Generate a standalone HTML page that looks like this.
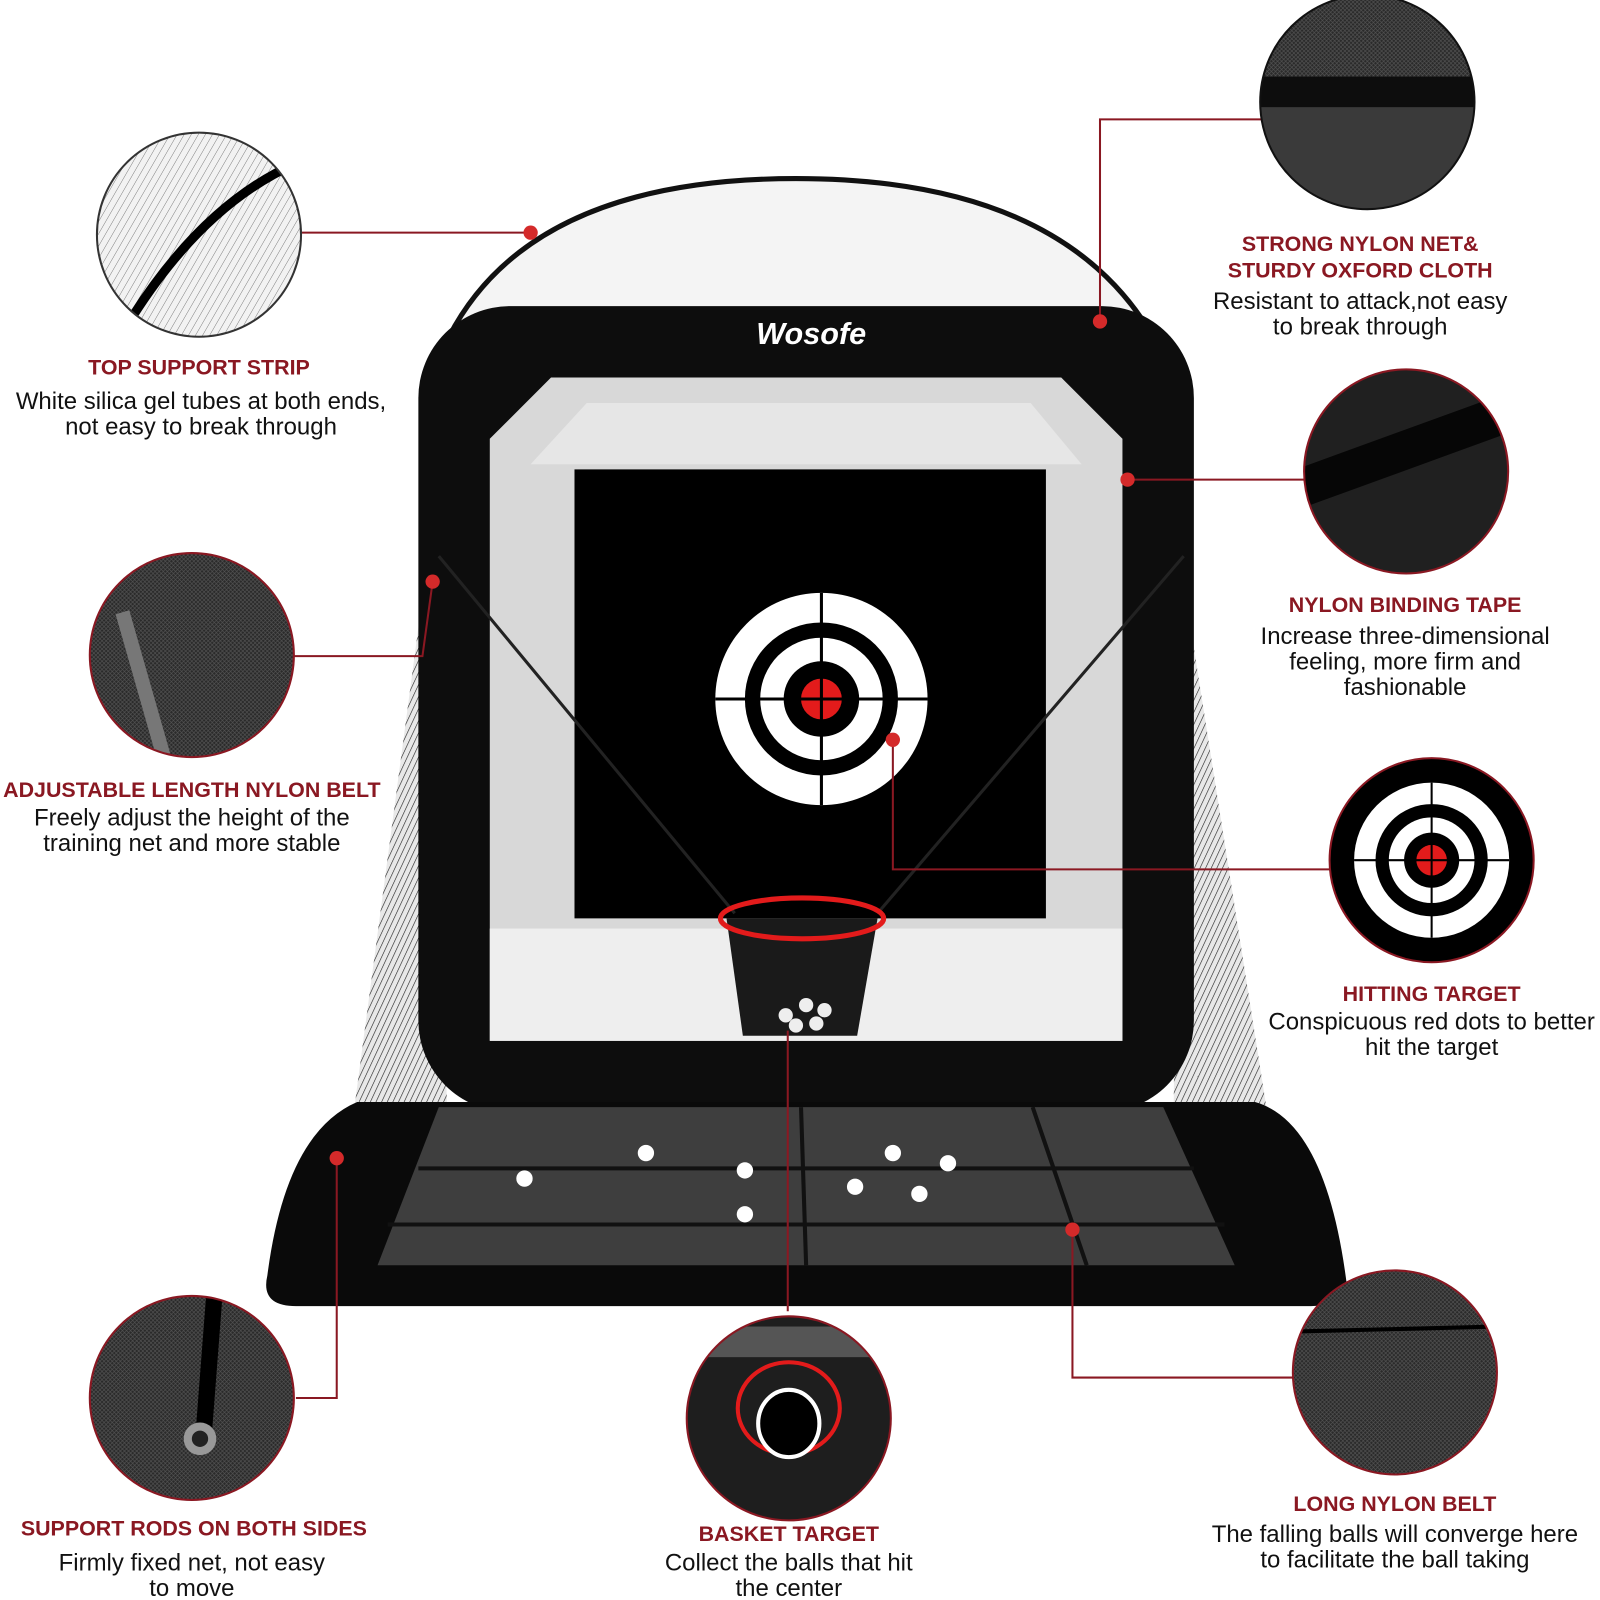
<!DOCTYPE html>
<html><head><meta charset="utf-8"><style>
html,body{margin:0;padding:0;background:#fff;width:1600px;height:1600px;overflow:hidden}
svg{display:block}
.h{font-family:"Liberation Sans",sans-serif;font-weight:bold;fill:#8a1822;font-size:21px}
.b{font-family:"Liberation Sans",sans-serif;fill:#111;font-size:23.5px}
</style></head><body>
<svg width="1600" height="1600" viewBox="0 0 1568 1568" xmlns="http://www.w3.org/2000/svg">
<defs>
<pattern id="mesh" width="5" height="5" patternUnits="userSpaceOnUse" patternTransform="rotate(25)">
<rect width="5" height="5" fill="#e8e8e8"/><line x1="0" y1="0" x2="0" y2="5" stroke="#222" stroke-width="1.2"/>
</pattern>
<pattern id="wmesh" width="6" height="6" patternUnits="userSpaceOnUse" patternTransform="rotate(30)">
<rect width="6" height="6" fill="#f2f2f2"/><line x1="0" y1="0" x2="0" y2="6" stroke="#666" stroke-width="0.8"/>
</pattern>
<pattern id="dmesh" width="4" height="4" patternUnits="userSpaceOnUse">
<rect width="4" height="4" fill="#2a2a2a"/><path d="M0 0L4 4M4 0L0 4" stroke="#555" stroke-width="0.6"/>
</pattern>
<clipPath id="c1"><circle cx="195" cy="230" r="100"/></clipPath>
<clipPath id="c2"><circle cx="1340" cy="100" r="105"/></clipPath>
<clipPath id="c3"><circle cx="1378" cy="462" r="100"/></clipPath>
<clipPath id="c4"><circle cx="188" cy="642" r="100"/></clipPath>
<clipPath id="c5"><circle cx="1403" cy="843" r="100"/></clipPath>
<clipPath id="c6"><circle cx="188" cy="1370" r="100"/></clipPath>
<clipPath id="c7"><circle cx="773" cy="1390" r="100"/></clipPath>
<clipPath id="c8"><circle cx="1367" cy="1345" r="100"/></clipPath>
</defs>

<!-- side nets -->
<path d="M420 540 L340 1140 L440 1140 Z" fill="url(#mesh)"/>
<path d="M1155 540 L1245 1110 L1150 1110 Z" fill="url(#mesh)"/>
<!-- dome -->
<path d="M440 330 Q520 175 780 175 Q1040 175 1130 330 Z" fill="#f4f4f4" stroke="#111" stroke-width="5"/>
<!-- main frame -->
<rect x="410" y="300" width="760" height="790" rx="90" fill="#0d0d0d"/>
<path d="M540 370 L1040 370 L1100 430 L1100 1020 L480 1020 L480 430 Z" fill="#d8d8d8"/>
<rect x="480" y="910" width="620" height="110" fill="#eeeeee"/>
<path d="M575 395 L1010 395 L1060 455 L520 455 Z" fill="#e6e6e6"/>
<rect x="563" y="460" width="462" height="440" fill="#000"/>
<text x="795" y="337" text-anchor="middle" font-family="Liberation Sans,sans-serif" font-weight="bold" font-style="italic" font-size="30" fill="#fff">Wosofe</text>
<circle cx="805" cy="685" r="104" fill="#fff"/>
<circle cx="805" cy="685" r="75" fill="#000"/>
<circle cx="805" cy="685" r="60" fill="#fff"/>
<circle cx="805" cy="685" r="37" fill="#000"/>
<circle cx="805" cy="685" r="20" fill="#e31b1b"/>
<line x1="701" y1="685" x2="909" y2="685" stroke="#000" stroke-width="3"/>
<line x1="805" y1="581" x2="805" y2="789" stroke="#000" stroke-width="3"/>
<path d="M430 545 L720 895 M1160 545 L860 895" stroke="#222" stroke-width="3" fill="none"/>
<path d="M712 900 L860 900 L840 1015 L728 1015 Z" fill="#1a1a1a"/>
<ellipse cx="786" cy="900" rx="80" ry="20" fill="none" stroke="#e31b1b" stroke-width="5"/>
<g fill="#eee"><circle cx="770" cy="995" r="7"/><circle cx="790" cy="985" r="7"/><circle cx="808" cy="990" r="7"/><circle cx="800" cy="1003" r="7"/><circle cx="780" cy="1005" r="7"/></g>
<!-- floor -->
<path d="M350 1080 L1230 1080 Q1300 1100 1320 1260 Q1320 1280 1280 1280 L290 1280 Q255 1280 262 1250 Q280 1110 350 1080 Z" fill="#0a0a0a"/>
<path d="M430 1085 L1140 1085 L1210 1240 L370 1240 Z" fill="#3e3e3e"/>
<path d="M410 1145 L1170 1145 M380 1200 L1200 1200 M785 1085 L790 1240 M1012 1085 L1065 1240" stroke="#111" stroke-width="4"/>
<g fill="#fff"><circle cx="633" cy="1130" r="8"/><circle cx="730" cy="1147" r="8"/><circle cx="514" cy="1155" r="8"/><circle cx="875" cy="1130" r="8"/><circle cx="929" cy="1140" r="8"/><circle cx="838" cy="1163" r="8"/><circle cx="901" cy="1170" r="8"/><circle cx="730" cy="1190" r="8"/></g>

<g stroke="#8a1822" stroke-width="2" fill="none">
<path d="M295 228 L520 228"/>
<path d="M1078 315 L1078 117 L1236 117"/>
<path d="M1105 470 L1280 470"/>
<path d="M288 643 L414 643 L424 570"/>
<path d="M875 725 L875 852 L1305 852"/>
<path d="M290 1370 L330 1370 L330 1135"/>
<path d="M772 1010 L772 1285"/>
<path d="M1051 1205 L1051 1350 L1270 1350"/>
</g>
<g fill="#d42a2a"><circle cx="520" cy="228" r="7"/><circle cx="1078" cy="315" r="7"/><circle cx="1105" cy="470" r="7"/><circle cx="424" cy="570" r="7"/><circle cx="875" cy="725" r="7"/><circle cx="330" cy="1135" r="7"/><circle cx="1051" cy="1205" r="7"/></g>

<g clip-path="url(#c1)"><rect x="90" y="125" width="210" height="210" fill="url(#wmesh)"/><path d="M130 310 Q200 200 290 160" stroke="#000" stroke-width="9" fill="none"/></g>
<circle cx="195" cy="230" r="100" fill="none" stroke="#333" stroke-width="2"/>
<g clip-path="url(#c2)"><rect x="1230" y="0" width="220" height="210" fill="#3a3a3a"/><rect x="1230" y="0" width="220" height="75" fill="url(#dmesh)"/><rect x="1230" y="75" width="220" height="30" fill="#0d0d0d"/></g>
<circle cx="1340" cy="100" r="105" fill="none" stroke="#111" stroke-width="2"/>
<g clip-path="url(#c3)"><rect x="1275" y="360" width="210" height="210" fill="#202020"/><path d="M1270 460 Q1380 420 1490 380 L1490 420 Q1380 460 1270 500 Z" fill="#060606"/></g>
<circle cx="1378" cy="462" r="100" fill="none" stroke="#8a1822" stroke-width="2"/>
<g clip-path="url(#c4)"><rect x="85" y="540" width="210" height="210" fill="url(#dmesh)"/><path d="M120 600 L160 740" stroke="#777" stroke-width="14"/></g>
<circle cx="188" cy="642" r="100" fill="none" stroke="#8a1822" stroke-width="2"/>
<g clip-path="url(#c5)"><rect x="1300" y="740" width="210" height="210" fill="#000"/>
<circle cx="1403" cy="843" r="76" fill="#fff"/><circle cx="1403" cy="843" r="55" fill="#000"/><circle cx="1403" cy="843" r="42" fill="#fff"/><circle cx="1403" cy="843" r="27" fill="#000"/><circle cx="1403" cy="843" r="15" fill="#e31b1b"/>
<line x1="1327" y1="843" x2="1479" y2="843" stroke="#000" stroke-width="2"/><line x1="1403" y1="767" x2="1403" y2="919" stroke="#000" stroke-width="2"/></g>
<circle cx="1403" cy="843" r="100" fill="none" stroke="#8a1822" stroke-width="2"/>
<g clip-path="url(#c6)"><rect x="85" y="1268" width="210" height="210" fill="url(#dmesh)"/><path d="M210 1270 L200 1400" stroke="#000" stroke-width="16"/><circle cx="196" cy="1410" r="16" fill="#999"/><circle cx="196" cy="1410" r="8" fill="#222"/></g>
<circle cx="188" cy="1370" r="100" fill="none" stroke="#8a1822" stroke-width="2"/>
<g clip-path="url(#c7)"><rect x="670" y="1288" width="210" height="210" fill="#1e1e1e"/><rect x="670" y="1300" width="210" height="30" fill="#555"/><ellipse cx="773" cy="1380" rx="50" ry="45" fill="none" stroke="#e31b1b" stroke-width="4"/><ellipse cx="773" cy="1395" rx="30" ry="33" fill="#000" stroke="#fff" stroke-width="4"/></g>
<circle cx="773" cy="1390" r="100" fill="none" stroke="#8a1822" stroke-width="2"/>
<g clip-path="url(#c8)"><rect x="1265" y="1243" width="210" height="210" fill="url(#dmesh)"/><line x1="1265" y1="1305" x2="1470" y2="1300" stroke="#000" stroke-width="4"/></g>
<circle cx="1367" cy="1345" r="100" fill="none" stroke="#8a1822" stroke-width="2"/>

<text class="h" x="195" y="367" text-anchor="middle">TOP SUPPORT STRIP</text>
<text class="b" x="197" y="401" text-anchor="middle">White silica gel tubes at both ends,</text>
<text class="b" x="197" y="426" text-anchor="middle">not easy to break through</text>
<text class="h" x="1333" y="246" text-anchor="middle">STRONG NYLON NET&amp;</text>
<text class="h" x="1333" y="272" text-anchor="middle">STURDY OXFORD CLOTH</text>
<text class="b" x="1333" y="303" text-anchor="middle">Resistant to attack,not easy</text>
<text class="b" x="1333" y="328" text-anchor="middle">to break through</text>
<text class="h" x="1377" y="600" text-anchor="middle">NYLON BINDING TAPE</text>
<text class="b" x="1377" y="631" text-anchor="middle">Increase three-dimensional</text>
<text class="b" x="1377" y="656" text-anchor="middle">feeling, more firm and</text>
<text class="b" x="1377" y="681" text-anchor="middle">fashionable</text>
<text class="h" x="188" y="781" text-anchor="middle">ADJUSTABLE LENGTH NYLON BELT</text>
<text class="b" x="188" y="809" text-anchor="middle">Freely adjust the height of the</text>
<text class="b" x="188" y="834" text-anchor="middle">training net and more stable</text>
<text class="h" x="1403" y="981" text-anchor="middle">HITTING TARGET</text>
<text class="b" x="1403" y="1009" text-anchor="middle">Conspicuous red dots to better</text>
<text class="b" x="1403" y="1034" text-anchor="middle">hit the target</text>
<text class="h" x="190" y="1505" text-anchor="middle">SUPPORT RODS ON BOTH SIDES</text>
<text class="b" x="188" y="1539" text-anchor="middle">Firmly fixed net, not easy</text>
<text class="b" x="188" y="1564" text-anchor="middle">to move</text>
<text class="h" x="773" y="1510" text-anchor="middle">BASKET TARGET</text>
<text class="b" x="773" y="1539" text-anchor="middle">Collect the balls that hit</text>
<text class="b" x="773" y="1564" text-anchor="middle">the center</text>
<text class="h" x="1367" y="1481" text-anchor="middle">LONG NYLON BELT</text>
<text class="b" x="1367" y="1511" text-anchor="middle">The falling balls will converge here</text>
<text class="b" x="1367" y="1536" text-anchor="middle">to facilitate the ball taking</text>
</svg>
</body></html>
